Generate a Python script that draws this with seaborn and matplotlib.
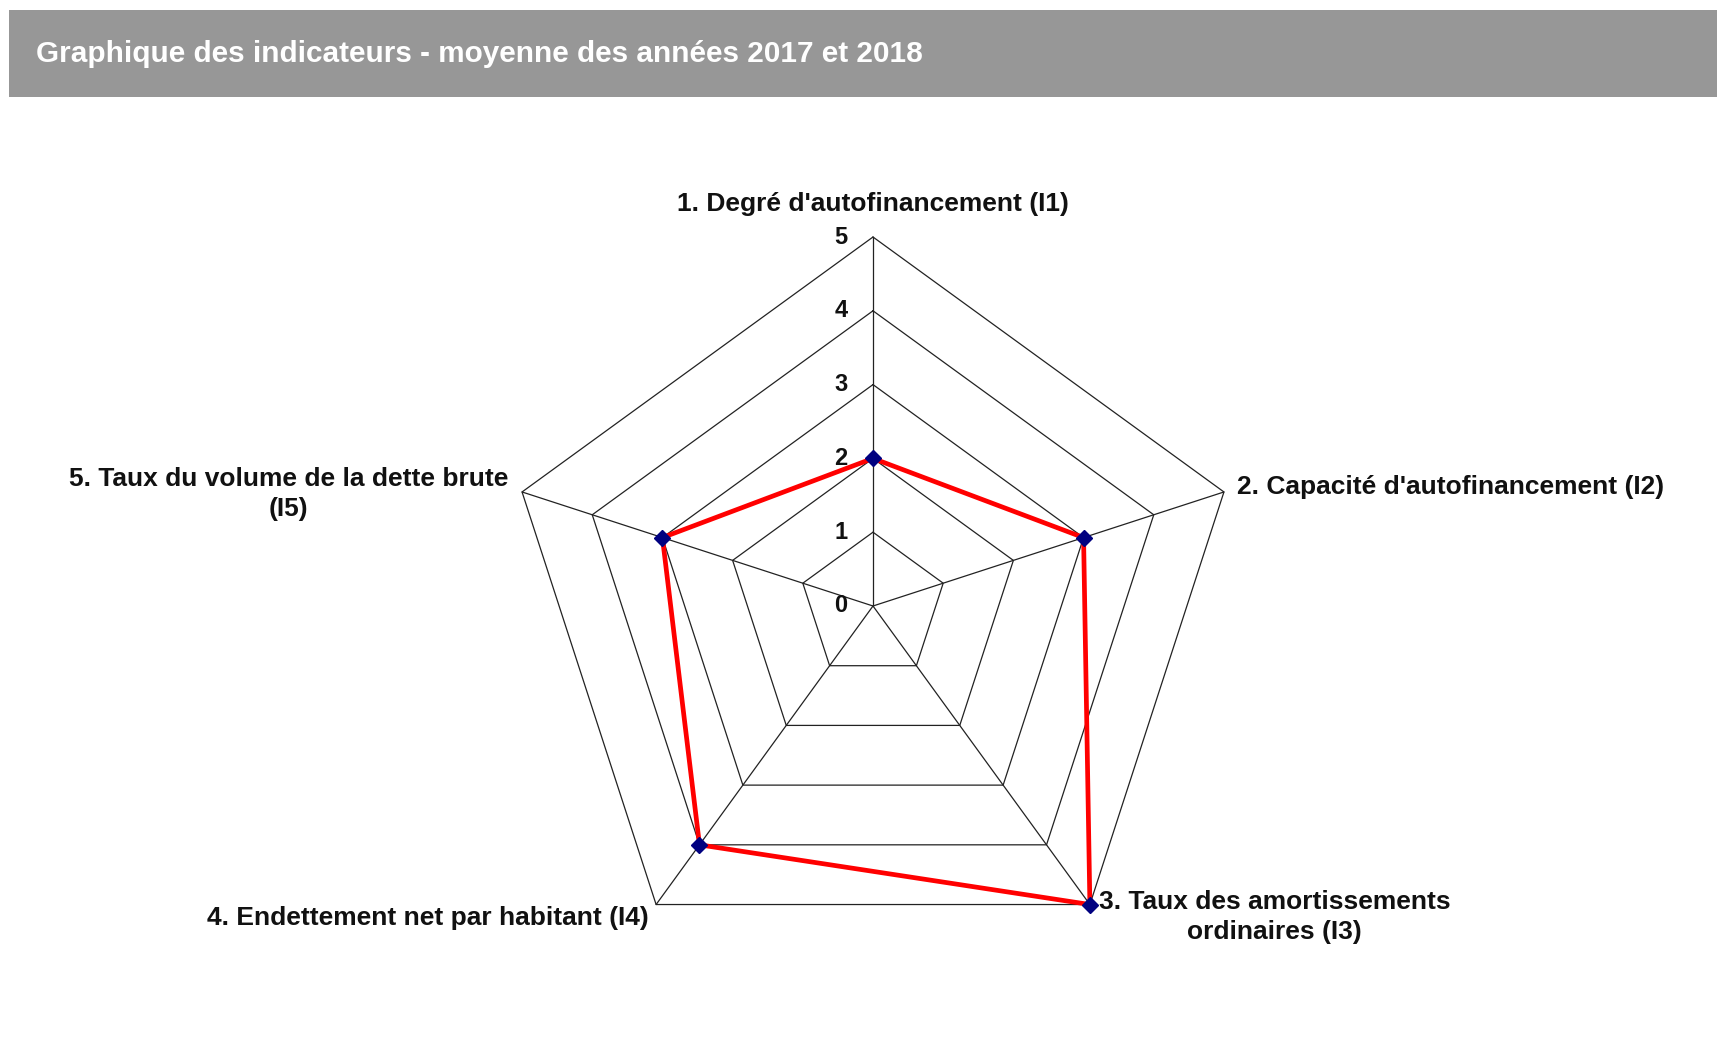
import numpy as np
import pandas as pd
import matplotlib
matplotlib.use('Agg')
import matplotlib.pyplot as plt
import seaborn as sns
from matplotlib.patches import Rectangle

# indicators and average values 2017/2018
labels = ["1. Degré d'autofinancement (I1)",
          "2. Capacité d'autofinancement (I2)",
          "3. Taux des amortissements\nordinaires (I3)",
          "4. Endettement net par habitant (I4)",
          "5. Taux du volume de la dette brute\n(I5)"]
values = [2, 3, 5, 4, 3]
levels = [0, 1, 2, 3, 4, 5]
title = "Graphique des indicateurs - moyenne des années 2017 et 2018"

sns.set_style("white")
plt.rcParams['font.family'] = ['Liberation Sans', 'DejaVu Sans']

n = len(labels)
theta = np.linspace(0, 2 * np.pi, n, endpoint=False)
theta_c = np.append(theta, theta[0])

fig = plt.figure(figsize=(17.17, 10.45), dpi=100)

# grey title bar
fig.patches.append(Rectangle((9 / 1717, 1 - 97 / 1045), 1, 87 / 1045,
                             transform=fig.transFigure, facecolor='#979797',
                             edgecolor='none', zorder=0))
fig.text(36 / 1717, 1 - 54 / 1045, title, color='white', fontsize=21.4,
         fontweight='bold', va='center', ha='left')

ax = fig.add_axes([504 / 1717, 70 / 1045, 738 / 1717, 738 / 1045], projection='polar')
ax.set_theta_offset(np.pi / 2)
ax.set_theta_direction(-1)
ax.set_ylim(0, 5)
ax.grid(False)
ax.spines['polar'].set_visible(False)
ax.set_xticks([])
ax.set_yticks([])
ax.set_facecolor('none')

# pentagon grid and spokes
for lv in levels[1:]:
    ax.plot(theta_c, [lv] * (n + 1), color='#222222', lw=0.9, zorder=1, clip_on=False)
for t in theta:
    ax.plot([t, t], [0, levels[-1]], color='#222222', lw=0.9, zorder=1, clip_on=False)

# scale labels along first axis
for lv in levels:
    ax.annotate(str(lv), (0, lv), xytext=(-32, 0), textcoords='offset pixels',
                ha='center', va='center', fontsize=17, fontweight='bold', color='#111111')

df = pd.DataFrame({'theta': theta_c, 'value': values + values[:1]})
sns.lineplot(data=df, x='theta', y='value', sort=False, ax=ax, color='#ff0000',
             lw=3.4, zorder=3, estimator=None, clip_on=False)
ax.plot(theta, values, linestyle='none', marker='D', markersize=8,
        color='#000080', zorder=4, clip_on=False)
ax.set_xlabel('')
ax.set_ylabel('')

lab_kw = dict(fontsize=19, fontweight='bold', color='#111111',
              textcoords='offset pixels', multialignment='center', linespacing=1.35)
ax.annotate(labels[0], (theta[0], 5), xytext=(0, 33), ha='center', va='center', **lab_kw)
ax.annotate(labels[1], (theta[1], 5), xytext=(13, 5), ha='left', va='center', **lab_kw)
ax.annotate(labels[2], (theta[2], 5), xytext=(9, 15), ha='left', va='top', **lab_kw)
ax.annotate(labels[3], (theta[3], 5), xytext=(-7, -1), ha='right', va='top', **lab_kw)
ax.annotate(labels[4], (theta[4], 5), xytext=(-14, -2), ha='right', va='center', **lab_kw)

fig.savefig('out.png', dpi=100, facecolor='white')
